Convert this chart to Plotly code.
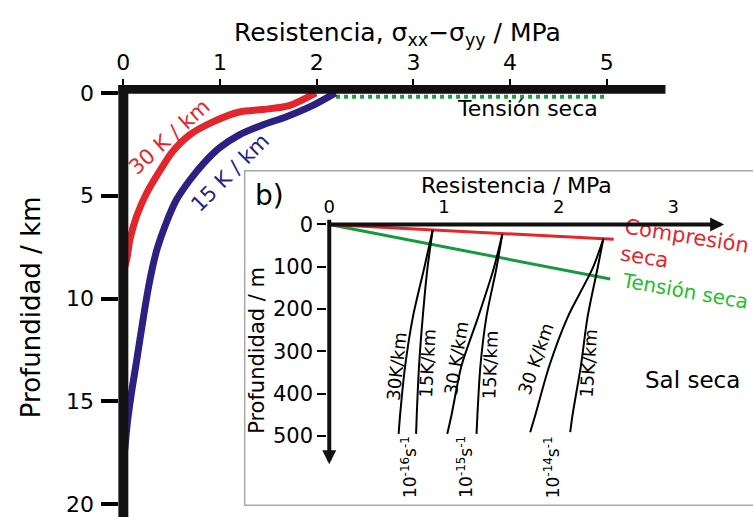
import plotly.graph_objects as go

W, H = 753, 517

# ---------------- data: main panel (strength in MPa, depth in km) ----------------
main_x_ticks = [0, 1, 2, 3, 4, 5]
main_y_ticks = [0, 5, 10, 15, 20]

red30_strength = [1.99, 1.715, 1.44, 1.20, 0.926, 0.686, 0.514, 0.378, 0.240, 0.137, 0.069, 0.035, 0.0]
red30_depth = [0.0, 0.62, 0.81, 0.93, 1.41, 2.04, 2.83, 3.78, 4.88, 5.99, 7.10, 8.10, 8.70]

blue15_strength = [2.194, 1.955, 1.68, 1.44, 1.20, 0.995, 0.823, 0.686, 0.549, 0.445, 0.35,
                   0.30, 0.262, 0.205, 0.137, 0.088, 0.042, 0.015, 0.0]
blue15_depth = [0.0, 0.62, 1.17, 1.56, 2.04, 2.67, 3.46, 4.25, 5.20, 6.30, 7.57,
                8.52, 9.40, 10.98, 13.03, 14.45, 16.02, 17.30, 17.90]

dry_tension_strength = [2.2, 5.0]
dry_tension_depth = [0.19, 0.19]

# ---------------- data: inset b) (strength in MPa, depth in m) ----------------
inset_x_ticks = [0, 1, 2, 3]
inset_y_ticks = [0, 100, 200, 300, 400, 500]

comp_strength = [0.0, 2.48]
comp_depth = [0.0, 35.0]
tens_strength = [0.0, 2.45]
tens_depth = [0.0, 129.0]

c16_depth = [13, 104, 219, 334, 449, 495]
c16_30_strength = [0.902, 0.827, 0.729, 0.662, 0.618, 0.605]
c16_15_strength = [0.902, 0.856, 0.815, 0.783, 0.763, 0.757]

c15_depth = [23, 104, 219, 334, 449, 495]
c15_30_strength = [1.509, 1.434, 1.298, 1.153, 1.067, 1.029]
c15_15_strength = [1.509, 1.457, 1.370, 1.318, 1.292, 1.284]

c14_depth = [34, 104, 219, 334, 449, 491]
c14_30_strength = [2.39, 2.296, 2.079, 1.919, 1.798, 1.752]
c14_15_strength = [2.39, 2.339, 2.252, 2.194, 2.122, 2.101]

# ---------------- layout geometry (pixels) ----------------
FONT = "DejaVu Sans"
RED = "#e3262b"
BLUE = "#2b2183"
GREEN_DOT = "#1f9a45"
GREEN_LINE = "#169a3c"
GREEN_TXT = "#1fc02a"

X0, SX = 120.0, 97.2      # main: px of 0 MPa, px per MPa
Y0, SY = 85.0, 21.1       # main: px of 0 km, px per km
IX0, ISX = 327.0, 115.3   # inset: px of 0 MPa, px per MPa
IY0, ISY = 220.0, 0.434   # inset: px of 0 m, px per m


def px(x):
    return x / W


def py(y):
    return 1 - y / H


main_dom_l, main_dom_r = 116.0, 665.0
main_dom_t, main_dom_b = 83.0, 517.0
in_dom_l, in_dom_r = 325.0, 728.0
in_dom_t, in_dom_b = 218.0, 470.0

fig = go.Figure()

# main traces
fig.add_trace(go.Scatter(x=dry_tension_strength, y=dry_tension_depth, mode="lines",
                         line=dict(color=GREEN_DOT, width=4, dash="dot"),
                         xaxis="x", yaxis="y", hoverinfo="skip"))
fig.add_trace(go.Scatter(x=red30_strength, y=red30_depth, mode="lines",
                         line=dict(color=RED, width=7, shape="spline", smoothing=0.8),
                         xaxis="x", yaxis="y"))
fig.add_trace(go.Scatter(x=blue15_strength, y=blue15_depth, mode="lines",
                         line=dict(color=BLUE, width=7, shape="spline", smoothing=0.8),
                         xaxis="x", yaxis="y"))

# inset traces
fig.add_trace(go.Scatter(x=tens_strength, y=tens_depth, mode="lines",
                         line=dict(color=GREEN_LINE, width=3), xaxis="x2", yaxis="y2"))
fig.add_trace(go.Scatter(x=comp_strength, y=comp_depth, mode="lines",
                         line=dict(color=RED, width=3), xaxis="x2", yaxis="y2"))
for xs, ds in [(c16_30_strength, c16_depth), (c16_15_strength, c16_depth),
               (c15_30_strength, c15_depth), (c15_15_strength, c15_depth),
               (c14_30_strength, c14_depth), (c14_15_strength, c14_depth)]:
    fig.add_trace(go.Scatter(x=xs, y=ds, mode="lines",
                             line=dict(color="black", width=2, shape="spline", smoothing=0.8),
                             xaxis="x2", yaxis="y2"))

fig.update_layout(
    width=W, height=H, margin=dict(l=0, r=0, t=0, b=0),
    paper_bgcolor="white", plot_bgcolor="rgba(0,0,0,0)",
    showlegend=False,
    font=dict(family=FONT, color="black"),
    xaxis=dict(domain=[px(main_dom_l), px(main_dom_r)],
               range=[(main_dom_l - X0) / SX, (main_dom_r - X0) / SX],
               side="top", anchor="y", tickvals=main_x_ticks,
               ticks="outside", ticklen=11, tickwidth=2, tickcolor="black",
               tickfont=dict(size=22), showgrid=False, zeroline=False, showline=False,
               ticklabeloverflow="allow"),
    yaxis=dict(domain=[py(main_dom_b), py(main_dom_t)],
               range=[(main_dom_b - Y0) / SY, (main_dom_t - Y0) / SY],
               anchor="x", tickvals=main_y_ticks,
               ticks="outside", ticklen=17, tickwidth=4, tickcolor="black",
               tickfont=dict(size=22), showgrid=False, zeroline=False, showline=False,
               ticklabeloverflow="allow", ticklabelstandoff=3),
    xaxis2=dict(domain=[px(in_dom_l), px(in_dom_r)],
                range=[(in_dom_l - IX0) / ISX, (in_dom_r - IX0) / ISX],
                side="top", anchor="y2", tickvals=inset_x_ticks, ticks="",
                tickfont=dict(size=18), showgrid=False, zeroline=False, showline=False,
                ticklabelstandoff=5, ticklabeloverflow="allow"),
    yaxis2=dict(domain=[py(in_dom_b), py(in_dom_t)],
                range=[(in_dom_b - IY0) / ISY, (in_dom_t - IY0) / ISY],
                anchor="x2", tickvals=inset_y_ticks,
                ticks="outside", ticklen=9, tickwidth=2, tickcolor="black",
                tickfont=dict(size=21), showgrid=False, zeroline=False, showline=False,
                ticklabeloverflow="allow"),
)

shapes = [
    # inset frame
    dict(type="rect", xref="paper", yref="paper", x0=px(242), x1=px(800), y0=py(508), y1=py(165),
         fillcolor="white", line=dict(color="#a8a8a8", width=1.5), layer="below"),
    # main thick axis bars
    dict(type="rect", xref="paper", yref="paper", x0=px(115), x1=px(125), y0=py(530), y1=py(77),
         fillcolor="#111", line=dict(width=0), layer="above"),
    dict(type="rect", xref="paper", yref="paper", x0=px(115), x1=px(665), y0=py(86), y1=py(77),
         fillcolor="#111", line=dict(width=0), layer="above"),
]
fig.update_layout(shapes=shapes)

ann = []


def label(text, x, y, size, color="black", angle=0, align="center"):
    ann.append(dict(text=text, xref="paper", yref="paper", x=px(x), y=py(y),
                    xanchor="center", yanchor="middle", showarrow=False,
                    textangle=angle, align=align,
                    font=dict(family=FONT, size=size, color=color)))


# titles
label("Resistencia, σ<sub>xx</sub>−σ<sub>yy</sub> / MPa", 396, 25, 25)
label("Profundidad / km", 27, 305, 26, angle=-90)
label("30 K / km", 166, 130, 21, RED, -42)
label("15 K / km", 227, 167, 21, BLUE, -45)
label("Tensión seca", 526, 101, 22)

# inset texts
label("b)", 267, 190, 28)
label("Resistencia / MPa", 515, 180, 22)
label("Profundidad / m", 255, 349, 21, angle=-90)
label("Compresión<br>seca", 684, 246, 21, RED, 9, "left")
label("Tensión seca", 685, 288, 20, GREEN_TXT, 10)
label("Sal seca", 692, 380, 23)

for t, x, y, a in [("30K/km", 395, 365, -84), ("15K/km", 426, 362, -87),
                   ("30 K/km", 455, 358, -81), ("15K/km", 489, 364, -88),
                   ("30 K/km", 535, 358, -71), ("15K/km", 588, 362, -86)]:
    label(t, x, y, 18, angle=a)

for t, x in [("10<sup>-16</sup>s<sup>-1</sup>", 407), ("10<sup>-15</sup>s<sup>-1</sup>", 464),
             ("10<sup>-14</sup>s<sup>-1</sup>", 551)]:
    label(t, x, 469, 17, angle=-90)

# inset axis arrows
ann.append(dict(text="", xref="paper", yref="paper", x=px(724), y=py(IY0), ax=IX0 - 724, ay=0,
                showarrow=True, arrowhead=2, arrowsize=0.7, arrowwidth=4, arrowcolor="#111"))
ann.append(dict(text="", xref="paper", yref="paper", x=px(IX0), y=py(466), ax=0, ay=IY0 - 466,
                showarrow=True, arrowhead=2, arrowsize=0.7, arrowwidth=4, arrowcolor="#111"))

fig.update_layout(annotations=ann)
fig.write_html("out.html", config={"displayModeBar": False},
               post_script="document.body.style.margin='0';document.body.style.overflow='hidden';")
